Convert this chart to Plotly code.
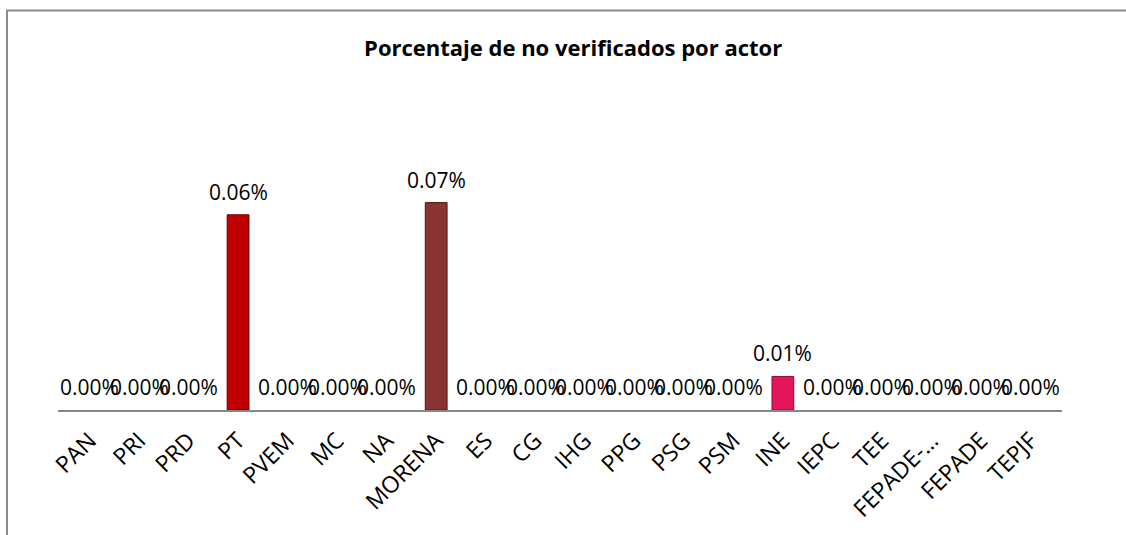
import plotly.graph_objects as go

categories = ["PAN", "PRI", "PRD", "PT", "PVEM", "MC", "NA", "MORENA", "ES", "CG",
              "IHG", "PPG", "PSG", "PSM", "INE", "IEPC", "TEE", "FEPADE-…", "FEPADE", "TEPJF"]
values_pct = [0, 0, 0, 0.064, 0, 0, 0, 0.068, 0, 0,
              0, 0, 0, 0, 0.011, 0, 0, 0, 0, 0]
bar_colors = ["#1F4E9A", "#2E8B3A", "#F2C200", "#C00000", "#3C9A3C", "#F07F09", "#2FA0C0",
              "#8B3232", "#7B2C8C", "#5A5A5A", "#4472C4", "#ED7D31", "#A5A5A5", "#FFC000",
              "#E3165B", "#5B9BD5", "#70AD47", "#264478", "#9E480E", "#636363"]
edge_colors = ["#0F2A55", "#17501F", "#8A6E00", "#6A0000", "#1E5A1E", "#8A4505", "#17607A",
               "#4A1818", "#40164A", "#303030", "#223A66", "#7A3E18", "#555555", "#806000",
               "#8A0A38", "#2E4E70", "#385A24", "#13223C", "#4F2407", "#323232"]

fig = go.Figure()
fig.add_trace(go.Bar(
    x=categories,
    y=values_pct,
    marker=dict(color=bar_colors,
                line=dict(color=edge_colors, width=[1 if v > 0 else 0 for v in values_pct])),
    hoverinfo="skip",
))

annotations = [
    dict(x=c, y=v, xref="x", yref="y", text=f"{v:.2f}%", showarrow=False,
         yanchor="middle", xanchor="center", yshift=23,
         font=dict(family="Open Sans", size=21, color="#000000"))
    for c, v in zip(categories, values_pct)
]

fig.update_layout(
    width=1126, height=535,
    paper_bgcolor="white", plot_bgcolor="white",
    margin=dict(l=58, r=64, t=166, b=125),
    showlegend=False,
    bargap=0.56,
    annotations=annotations,
    title=dict(text="<b>Porcentaje de no verificados por actor</b>",
               x=0.509, xanchor="center", y=1 - 48 / 535, yanchor="middle",
               font=dict(family="Open Sans", size=22, color="#000000")),
    xaxis=dict(showline=True, linecolor="#878787", linewidth=2,
               ticks="outside", ticklen=6, tickcolor="rgba(0,0,0,0)",
               tickangle=-45, tickfont=dict(family="Open Sans", size=23, color="#000000"),
               showgrid=False, zeroline=False),
    yaxis=dict(range=[0, 0.08], visible=False, showgrid=False, zeroline=False),
    shapes=[dict(type="rect", xref="paper", yref="paper",
                 x0=(7 - 58) / 1004, x1=(1140 - 58) / 1004,
                 y0=(410 - 545) / 244, y1=(410 - 10.5) / 244,
                 line=dict(color="#8C8C8C", width=2), fillcolor="rgba(0,0,0,0)",
                 layer="below")],
)

fig.write_html("out.html", config={"displayModeBar": False},
               post_script="document.body.style.margin='0px';")
